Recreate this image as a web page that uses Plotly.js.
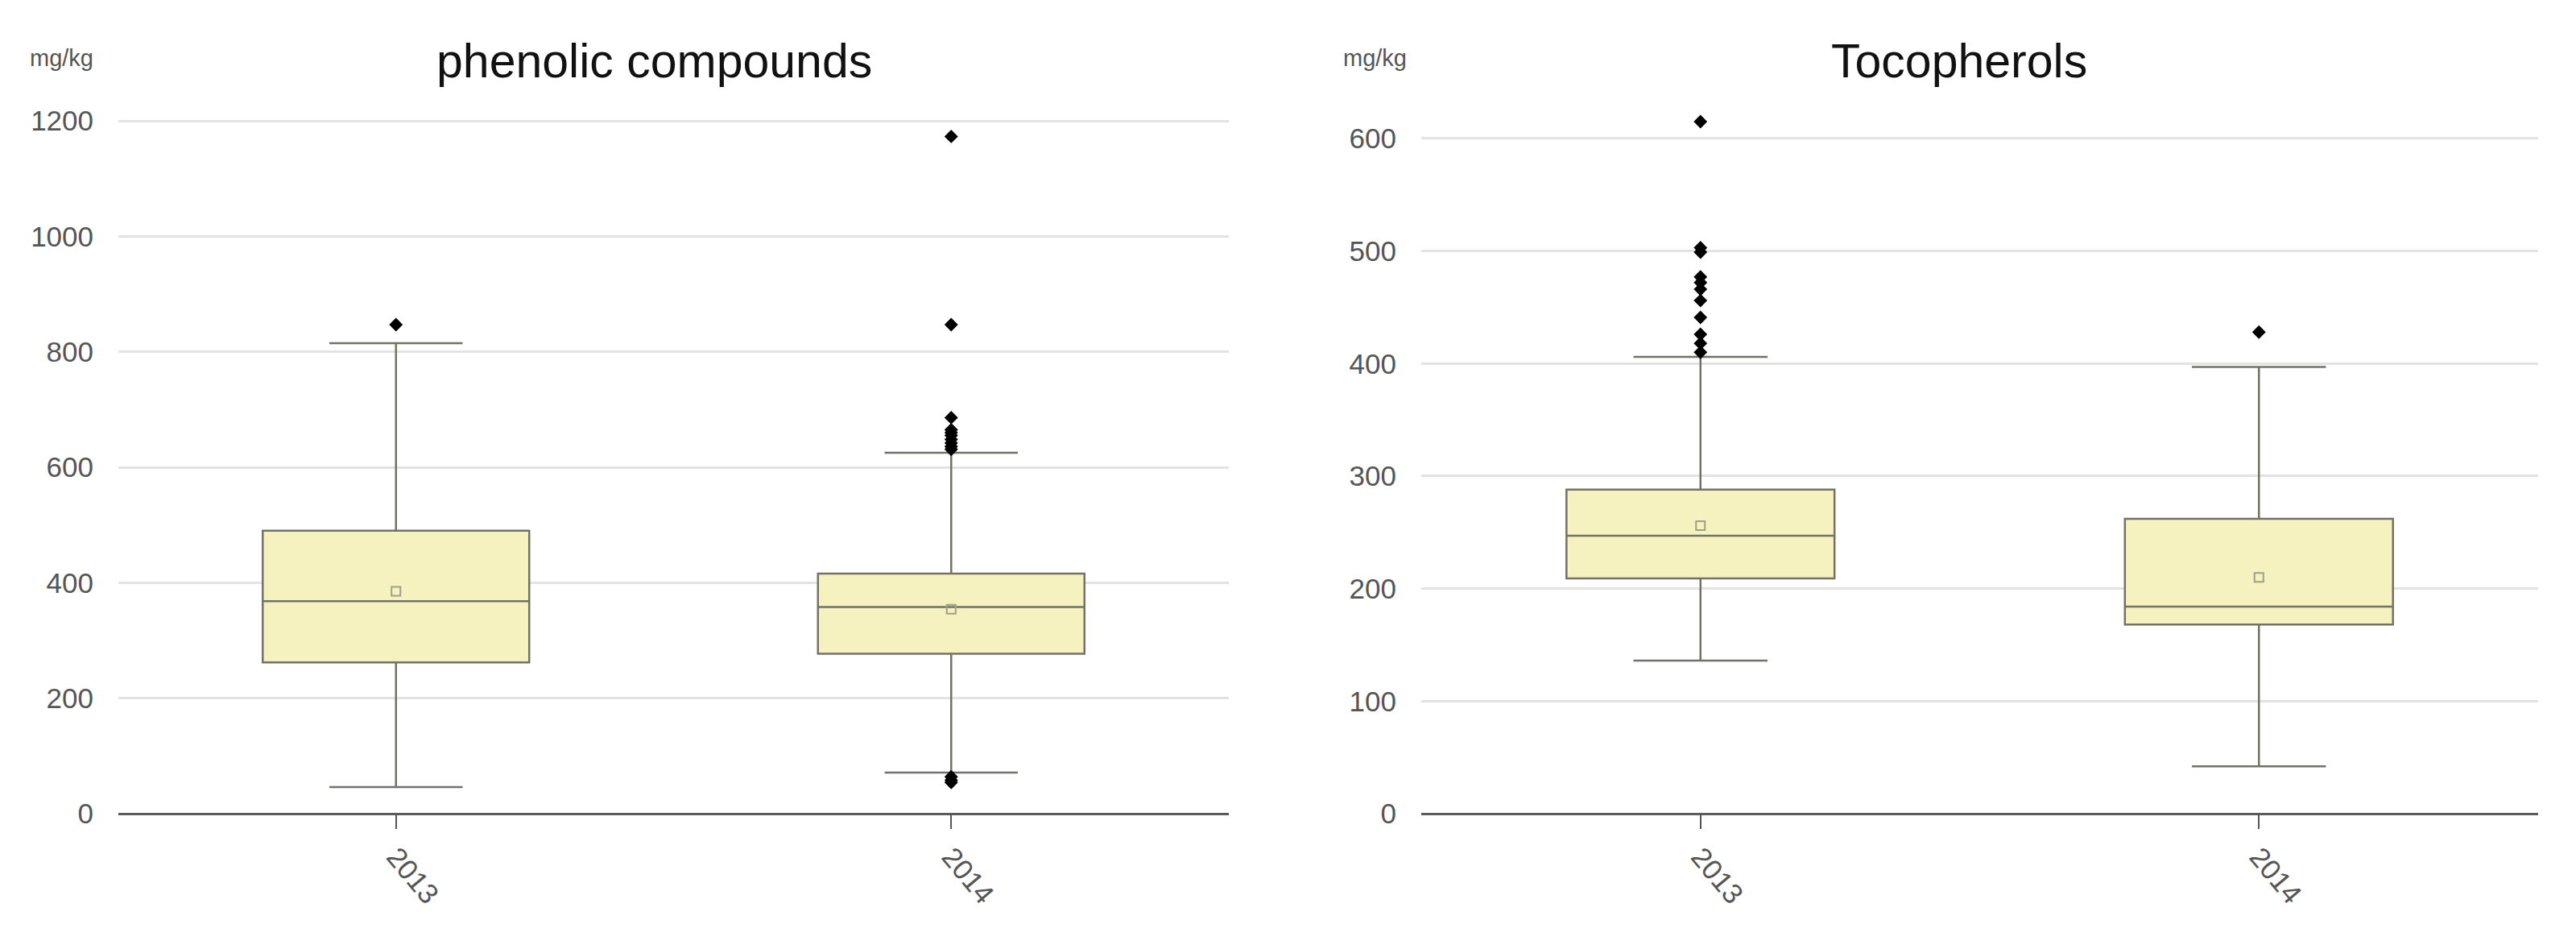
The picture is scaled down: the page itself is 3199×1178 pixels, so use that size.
<!DOCTYPE html>
<html>
<head>
<meta charset="utf-8">
<script src="https://cdn.plot.ly/plotly-3.0.1.min.js"></script>
<style>
  html, body { margin: 0; padding: 0; background: #ffffff; }
  #chart { width: 3199px; height: 1178px; }
</style>
</head>
<body>
<div id="chart"></div>
<script>
// ---- Data ----
const years = ['2013', '2014'];

// phenolic compounds (mg/kg)
const phenQ1 = [262, 277];
const phenMedian = [368, 358];
const phenQ3 = [490, 416];
const phenLowerWhisker = [46, 71];
const phenUpperWhisker = [815, 625];
const phenMean = [385, 354];
const phenOutliers2013 = [847];
const phenOutliers2014 = [1173, 847, 686, 665, 660, 655, 648, 642, 636, 631, 64, 58, 54];

// Tocopherols (mg/kg)
const tocoQ1 = [209, 168];
const tocoMedian = [247, 184];
const tocoQ3 = [288, 262];
const tocoLowerWhisker = [136, 42];
const tocoUpperWhisker = [406, 397];
const tocoMean = [256, 210];
const tocoOutliers2013 = [615, 503, 499, 477, 472, 466, 456, 441, 426, 418, 410];
const tocoOutliers2014 = [428];

const titles = ['phenolic compounds', 'Tocopherols'];
const unitLabel = 'mg/kg';

// ---- Styles ----
const FONT = 'Liberation Sans, Arial, Helvetica, sans-serif';
const boxFill = '#f6f2c0';
const boxLine = '#727266';
const meanColor = '#a19f86';

function boxTrace(q1, med, q3, lo, hi, xa, ya) {
  return {
    type: 'box', x: years, q1: q1, median: med, q3: q3,
    lowerfence: lo, upperfence: hi,
    boxpoints: false, width: 0.48, whiskerwidth: 0.5,
    fillcolor: boxFill, line: {color: boxLine, width: 2.5},
    xaxis: xa, yaxis: ya, showlegend: false, hoverinfo: 'skip'
  };
}
function meanTrace(mean, xa, ya) {
  return {
    type: 'scatter', mode: 'markers', x: years, y: mean,
    marker: {symbol: 'square-open', size: 11, color: meanColor, line: {width: 2, color: meanColor}},
    xaxis: xa, yaxis: ya, showlegend: false, hoverinfo: 'skip'
  };
}
function outlierTrace(o13, o14, xa, ya) {
  const xs = o13.map(() => years[0]).concat(o14.map(() => years[1]));
  return {
    type: 'scatter', mode: 'markers', x: xs, y: o13.concat(o14),
    marker: {symbol: 'diamond', size: 13, color: '#000000'},
    xaxis: xa, yaxis: ya, showlegend: false, hoverinfo: 'skip'
  };
}

const data = [
  boxTrace(phenQ1, phenMedian, phenQ3, phenLowerWhisker, phenUpperWhisker, 'x', 'y'),
  meanTrace(phenMean, 'x', 'y'),
  outlierTrace(phenOutliers2013, phenOutliers2014, 'x', 'y'),
  boxTrace(tocoQ1, tocoMedian, tocoQ3, tocoLowerWhisker, tocoUpperWhisker, 'x2', 'y2'),
  meanTrace(tocoMean, 'x2', 'y2'),
  outlierTrace(tocoOutliers2013, tocoOutliers2014, 'x2', 'y2')
];

const W = 3199, H = 1178;
const xAxisBase = {
  type: 'category', categoryorder: 'array', categoryarray: years,
  range: [-0.5, 1.5], showgrid: false, showline: false, zeroline: false,
  ticks: 'outside', ticklen: 18, tickwidth: 2, tickcolor: '#555555',
  tickangle: 50, tickfont: {family: FONT, size: 35, color: '#555555'}
};
const yAxisBase = {
  showgrid: true, gridcolor: '#e3e3e3', gridwidth: 3,
  zeroline: true, zerolinecolor: '#5a5a5a', zerolinewidth: 3,
  showline: false, ticks: '', ticklabelstandoff: 30,
  tickfont: {family: FONT, size: 35, color: '#555555'}
};
const yDomain = [(H - 1010) / H, (H - 120) / H];

const layout = {
  width: W, height: H,
  margin: {l: 0, r: 0, t: 0, b: 0},
  paper_bgcolor: '#ffffff', plot_bgcolor: '#ffffff',
  font: {family: FONT},
  xaxis: Object.assign({}, xAxisBase, {domain: [147 / W, 1526 / W], anchor: 'y'}),
  xaxis2: Object.assign({}, xAxisBase, {domain: [1765 / W, 3152 / W], anchor: 'y2'}),
  yaxis: Object.assign({}, yAxisBase, {domain: yDomain, range: [0, 1241.9], dtick: 200, anchor: 'x'}),
  yaxis2: Object.assign({}, yAxisBase, {domain: yDomain, range: [0, 637.2], dtick: 100, anchor: 'x2'}),
  annotations: [
    {text: titles[0], xref: 'paper', yref: 'paper', x: 812 / W, y: (H - 76) / H,
     xanchor: 'center', yanchor: 'middle', showarrow: false,
     font: {family: FONT, size: 59, color: '#111111'}},
    {text: titles[1], xref: 'paper', yref: 'paper', x: 2433 / W, y: (H - 76) / H,
     xanchor: 'center', yanchor: 'middle', showarrow: false,
     font: {family: FONT, size: 59, color: '#111111'}},
    {text: unitLabel, xref: 'paper', yref: 'paper', x: 35 / W, y: (H - 72) / H,
     xanchor: 'left', yanchor: 'middle', showarrow: false,
     font: {family: FONT, size: 29, color: '#555555'}},
    {text: unitLabel, xref: 'paper', yref: 'paper', x: 1666 / W, y: (H - 72) / H,
     xanchor: 'left', yanchor: 'middle', showarrow: false,
     font: {family: FONT, size: 29, color: '#555555'}}
  ]
};

Plotly.newPlot('chart', data, layout, {staticPlot: true, displayModeBar: false});
</script>
</body>
</html>
